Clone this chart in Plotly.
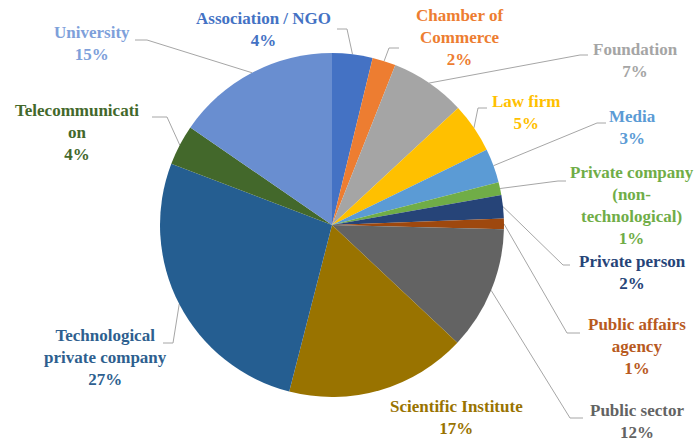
import math
import plotly.graph_objects as go

# ---- data ----
categories = ["Association / NGO", "Chamber of Commerce", "Foundation", "Law firm", "Media",
              "Private company (non-technological)", "Private person", "Public affairs agency",
              "Public sector", "Scientific Institute", "Technological private company",
              "Telecommunication", "University"]
shares = [3.8, 2.2, 7.1, 4.7, 3.2, 1.2, 2.2, 1.0, 11.6, 17.0, 26.8, 3.8, 15.4]
label_texts = ["Association / NGO", "Chamber of<br>Commerce", "Foundation", "Law firm", "Media",
               "Private company<br>(non-<br>technological)", "Private person", "Public affairs<br>agency",
               "Public sector", "Scientific Institute", "Technological<br>private company",
               "Telecommunicati<br>on", "University"]

# ---- styles ----
colors = ["#4472C4", "#ED7D31", "#A5A5A5", "#FFC000", "#5B9BD5", "#70AD47", "#264478",
          "#9E480E", "#636363", "#997300", "#255E91", "#43682B", "#698ED0"]
text_colors = ["#4472C4", "#ED7D31", "#A5A5A5", "#FFC000", "#5B9BD5", "#70AD47", "#264478",
               "#B85A1E", "#636363", "#997300", "#2E5F8F", "#43682B", "#7EA0DA"]
FONT = "Liberation Serif"

W, H = 700, 441
CX, CY, R = 332, 225, 172  # pie centre / radius in pixels

# label block centres (px) and leader elbow/end points (px); None = no leader
label_pos = [(263, 30), (459, 38), (635, 61), (526, 112), (632, 127), (632, 206), (632, 272),
             (637, 346), (637, 421), (456, 417), (105, 357), (77, 132), (92, 43)]
leaders = [((347, 29), (337, 29)), ((389, 48), (399, 48)), ((580, 55), (588, 55)),
           ((478, 108), (487, 108)), ((597, 123), (606, 123)), ((558, 181), (566, 181)),
           ((563, 265), (570, 265)), ((567, 333), (580, 333)), ((570, 418), (583, 418)),
           None, ((173, 343), (163, 343)), ((167, 117), (152, 117)), ((147, 40), (135, 40))]

fig = go.Figure()

total = sum(shares)
cum = 0.0
lx_all, ly_all = [], []
for i, v in enumerate(shares):
    mid = (cum + v / 2) / total
    cum += v
    if leaders[i] is not None:
        th = 2 * math.pi * mid
        sx, sy = CX + R * math.sin(th), CY - R * math.cos(th)
        (ex, ey), (fx, fy) = leaders[i]
        lx_all += [sx, ex, fx, None]
        ly_all += [sy, ey, fy, None]

# leader lines on a hidden pixel-scaled axis
fig.add_trace(go.Scatter(x=lx_all, y=ly_all, mode="lines", line=dict(color="#A6A6A6", width=1),
                         hoverinfo="skip", showlegend=False))

fig.add_trace(go.Pie(
    labels=categories, values=shares, sort=False, direction="clockwise",
    marker=dict(colors=colors), textinfo="none",
    domain=dict(x=[(CX - R) / W, (CX + R) / W], y=[1 - (CY + R) / H, 1 - (CY - R) / H]),
    showlegend=False,
))

for i, v in enumerate(shares):
    pct = round(100 * v / total)
    x0, y0 = label_pos[i]
    fig.add_annotation(x=x0 / W, y=1 - y0 / H, xref="paper", yref="paper",
                       xanchor="center", yanchor="middle",
                       text=f"<b>{label_texts[i]}<br>{pct}%</b>", showarrow=False, align="center",
                       font=dict(family=FONT, size=17, color=text_colors[i]))

fig.update_xaxes(visible=False, range=[0, W], domain=[0, 1], fixedrange=True)
fig.update_yaxes(visible=False, range=[H, 0], domain=[0, 1], fixedrange=True)
fig.update_layout(width=W, height=H, margin=dict(l=0, r=0, t=0, b=0),
                  paper_bgcolor="white", plot_bgcolor="rgba(0,0,0,0)")

fig.write_html("out.html")
